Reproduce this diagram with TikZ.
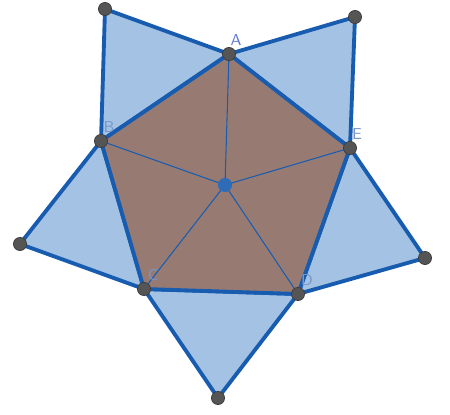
\documentclass[tikz,border=0pt]{standalone}
\usepackage{tikz}
\usetikzlibrary{positioning, calc}

\definecolor{edgeblue}{RGB}{24,92,176}
\definecolor{wingfill}{RGB}{164,194,228}
\definecolor{pentfill}{RGB}{151,123,115}
\definecolor{dotgray}{RGB}{85,85,85}
\definecolor{labelblue}{RGB}{120,150,200}

\begin{document}
\begin{tikzpicture}[x=0.02cm, y=-0.02cm,
    edge/.style={draw=edgeblue, line width=2.2pt, line join=round},
    spoke/.style={draw=edgeblue, line width=0.6pt},
    wing/.style={edge, fill=wingfill},
    vtx/.style={circle, fill=dotgray, draw=dotgray!70!black, inner sep=0pt, minimum size=7.5pt},
    ctr/.style={circle, fill=edgeblue!90!white, inner sep=0pt, minimum size=8pt},
    lbl/.style={text=labelblue, font=\sffamily\small, inner sep=1pt}]
    \useasboundingbox (0,0) rectangle (450,415);

    \coordinate (A) at (229,54);
    \coordinate (B) at (101,141);
    \coordinate (C) at (144,289);
    \coordinate (D) at (298,294);
    \coordinate (E) at (350,148);
    \coordinate (O) at (225,185);
    \coordinate (pAB) at (105,9);
    \coordinate (pAE) at (355,17);
    \coordinate (pBC) at (20,244);
    \coordinate (pDE) at (425,258);
    \coordinate (pCD) at (218,398);

    % outer triangles
    \path[wing] (B) -- (pAB) -- (A) -- cycle;
    \path[wing] (A) -- (pAE) -- (E) -- cycle;
    \path[wing] (B) -- (pBC) -- (C) -- cycle;
    \path[wing] (E) -- (pDE) -- (D) -- cycle;
    \path[wing] (C) -- (pCD) -- (D) -- cycle;

    % pentagon
    \path[fill=pentfill] (A) -- (B) -- (C) -- (D) -- (E) -- cycle;
    \foreach \v in {A,B,C,D,E}
        \path[spoke] (O) -- (\v);
    \path[edge] (A) -- (B) -- (C) -- (D) -- (E) -- cycle;

    \foreach \v in {A,B,C,D,E,pAB,pAE,pBC,pDE,pCD}
        \node[vtx] (n\v) at (\v) {};
    \node[ctr] (nO) at (O) {};

    \node[lbl, text=labelblue!80!blue] (lA) at (236,40) {A};
    \node[lbl] (lB) at (109,127) {B};
    \node[lbl] (lC) at (153,275) {C};
    \node[lbl] (lD) at (307,280) {D};
    \node[lbl] (lE) at (357,134) {E};
\end{tikzpicture}
\end{document}
